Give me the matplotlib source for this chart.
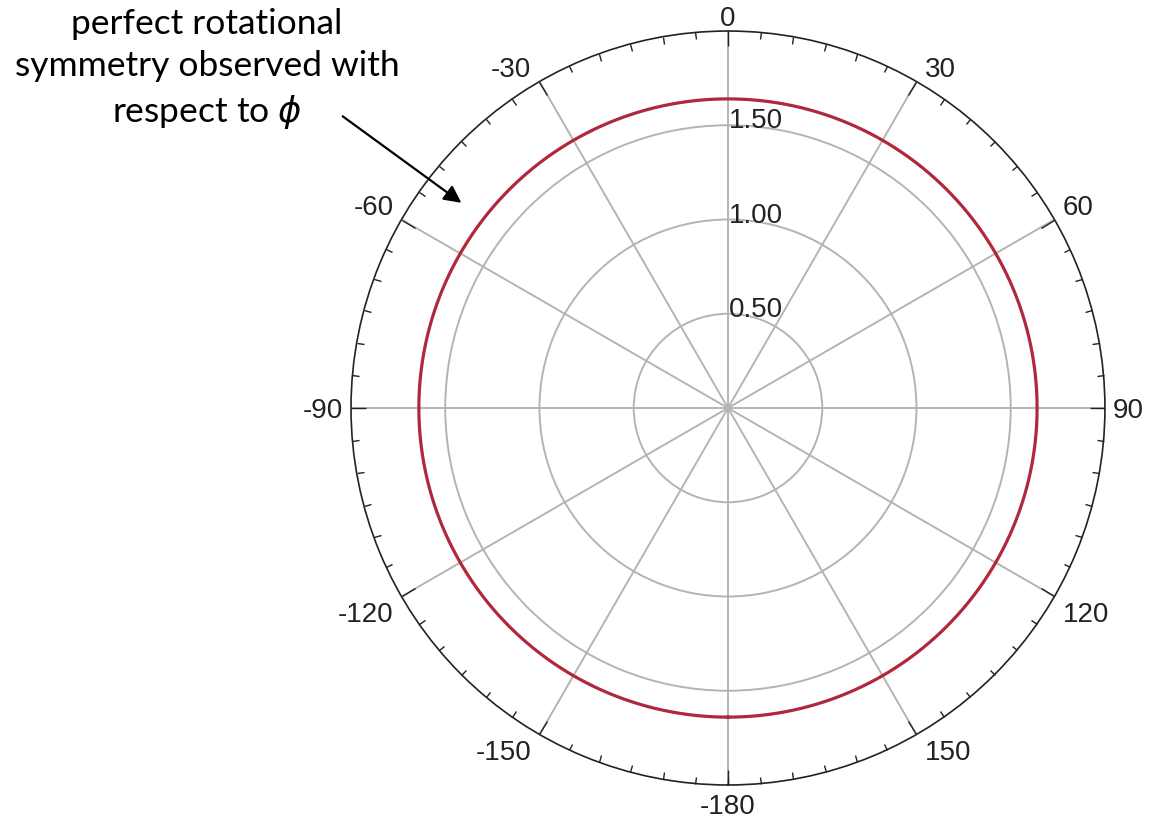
import numpy as np
import matplotlib.pyplot as plt

# measured pattern: same magnitude at every phi
phi_deg = [-180, -150, -120, -90, -60, -30, 0, 30, 60, 90, 120, 150, 180]
gain = [1.64, 1.64, 1.64, 1.64, 1.64, 1.64, 1.64, 1.64, 1.64, 1.64, 1.64, 1.64, 1.64]

angle_ticks = [0, 30, 60, 90, 120, 150, 180, -150, -120, -90, -60, -30]
angle_labels = ['0', '30', '60', '90', '120', '150', '-180', '-150', '-120', '-90', '-60', '-30']
r_ticks = [0.5, 1.0, 1.5]
r_labels = ['0.50', '1.00', '1.50']
r_max = 2.0

fig = plt.figure(figsize=(11.7, 8.25), dpi=100)
ax = fig.add_axes([0.300, 0.0485, 0.6444, 0.9139], projection='polar')
ax.set_theta_zero_location('N')
ax.set_theta_direction(-1)

# smooth curve through the sampled points (constant magnitude -> circle)
th = np.deg2rad(phi_deg)
th_fine = np.linspace(th[0], th[-1], 721)
r_fine = np.interp(th_fine, th, gain)
ax.plot(th_fine, r_fine, color='#b0283c', lw=2.3, zorder=3)
ax.set_thetamin(-180)
ax.set_thetamax(180)

ax.set_ylim(0, r_max)
ax.set_yticks(r_ticks)
ax.set_yticklabels([])
for r, lab in zip(r_ticks, r_labels):
    ax.annotate(lab, xy=(0.0, r), xytext=(1, -3), textcoords='offset pixels',
                ha='left', va='baseline', fontsize=20,
                family='Liberation Sans', color='#222222', zorder=4)

ax.set_xticks(np.deg2rad(angle_ticks))
ax.set_xticklabels([])
ax.set_xticks(np.deg2rad(np.arange(-180, 180, 5)), minor=True)
ax.tick_params(axis='x', which='both', bottom=False, top=True,
               labelbottom=False, labeltop=False)
ax.tick_params(axis='x', which='major', direction='in', length=11, width=1.0, color='#222222')
ax.tick_params(axis='x', which='minor', direction='in', length=5, width=1.0, color='#222222')
ax.grid(True, color='#b4b4b4', lw=1.4)
ax.spines['polar'].set_color('#222222')
ax.spines['polar'].set_linewidth(1.2)

# angle labels sit just outside the rim, corner nearest the rim
for a, lab in zip(angle_ticks, angle_labels):
    s = np.sign(round(np.sin(np.deg2rad(a)), 6))
    ha = {1: 'left', -1: 'right', 0: 'center'}[int(s)]
    if abs(a) < 90:
        va, dy = 'baseline', 5
    elif abs(a) == 90:
        va, dy = 'center_baseline', 0
    elif abs(a) == 180:
        va, dy = 'top', -9
    else:
        va, dy = 'top', -6
    dx = 8 * s
    ax.annotate(lab, xy=(np.deg2rad(a), r_max), xytext=(dx, dy), textcoords='offset pixels',
                ha=ha, va=va, fontsize=20, family='Liberation Sans', color='#222222',
                annotation_clip=False)

fig.text(0.177, 0.99, 'perfect rotational\nsymmetry observed with\nrespect to $\\phi$',
         ha='center', va='top', fontsize=25.5, family='Lato', linespacing=1.38)
ax.annotate('', xy=(np.deg2rad(-52.4), 1.77), xycoords='data',
            xytext=(0.291, 0.861), textcoords='figure fraction',
            arrowprops=dict(arrowstyle='-|>', color='black', lw=1.6, mutation_scale=26))

fig.savefig('out.png', dpi=100)
